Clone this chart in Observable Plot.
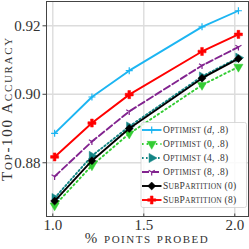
<!DOCTYPE html>
<html><head><meta charset="utf-8">
<script src="https://cdn.jsdelivr.net/npm/d3@7"></script>
<script src="https://cdn.jsdelivr.net/npm/@observablehq/plot@0.6"></script>
<style>
html,body{margin:0;padding:0;background:#fff;}
#chart svg{display:block;}
</style>
</head><body><div id="chart"></div>
<script>
const xValues = [1.01, 1.215, 1.42, 1.82, 2.02];
const optD = [0.8886, 0.8992, 0.9069, 0.9197, 0.9244];
const opt0 = [0.8675, 0.8792, 0.8885, 0.9027, 0.9080];
const opt4 = [0.8697, 0.8820, 0.8906, 0.9052, 0.9107];
const opt8 = [0.8760, 0.8862, 0.8950, 0.9084, 0.9138];
const sub0 = [0.8688, 0.8806, 0.8900, 0.9047, 0.9104];
const sub8 = [0.8817, 0.8916, 0.8999, 0.9125, 0.9175];
const xTicks = [1.0, 1.5, 2.0];
const yTicks = [0.88, 0.90, 0.92];
const xLabel = "% points probed";
const yLabel = "Top-100 Accuracy";

const triDown = {draw(ctx, size){const r=Math.sqrt(size/Math.PI);ctx.moveTo(0,0);ctx.lineTo(0,r);ctx.moveTo(0,0);ctx.lineTo(-r*0.87,-r*0.5);ctx.moveTo(0,0);ctx.lineTo(r*0.87,-r*0.5);}};
const plusThin = {draw(ctx, size){const r=Math.sqrt(size/Math.PI);ctx.moveTo(0,-r);ctx.lineTo(0,r);ctx.moveTo(-r,0);ctx.lineTo(r,0);}};

const series = [
  {label:"Optimist (d, .8)", y:optD, color:"#1cb5f2", dash:null, symbol:plusThin, fill:false, rotate:0, r:3.5},
  {label:"Optimist (0, .8)", y:opt0, color:"#33cc33", dash:"1.6,3", symbol:"triangle", fill:true, rotate:180, r:3.4},
  {label:"Optimist (4, .8)", y:opt4, color:"#138585", dash:"1.6,2.4", symbol:"triangle", fill:true, rotate:90, r:3.4},
  {label:"Optimist (8, .8)", y:opt8, color:"#82238f", dash:"7,3", symbol:triDown, fill:false, rotate:0, r:3.5},
  {label:"SubPartition (0)", y:sub0, color:"#000000", dash:null, symbol:"diamond2", fill:true, rotate:0, r:3.6},
  {label:"SubPartition (8)", y:sub8, color:"#ff0000", dash:null, symbol:"cross", fill:true, rotate:0, r:3.4}
];

const marks = [Plot.frame({stroke:"#444", strokeWidth:1})];
for (const s of series) {
  const data = xValues.map((x,i)=>({x, y:s.y[i]}));
  marks.push(Plot.line(data, {x:"x", y:"y", stroke:s.color, strokeWidth:1.9, strokeDasharray:s.dash}));
  marks.push(Plot.dot(data, {x:"x", y:"y", symbol:()=>s.symbol, r:s.r, rotate:s.rotate,
    fill: s.fill ? s.color : "none", stroke:s.color, strokeWidth: s.fill?0.5:1.2}));
}

const plot = Plot.plot({
  width:249, height:249,
  marginLeft:46, marginRight:1, marginTop:1, marginBottom:33,
  style:{fontFamily:"'Liberation Serif', serif", background:"#fff"},
  symbol:{type:"identity"},
  x:{domain:[0.9654,2.0754], label:null},
  y:{domain:[0.8643,0.9271], label:null},
  marks: [
    Plot.gridX(xTicks, {stroke:"#dcdcdc", strokeOpacity:1, strokeWidth:1.4}),
    Plot.gridY(yTicks, {stroke:"#dcdcdc", strokeOpacity:1, strokeWidth:1.4}),
    Plot.axisX(xTicks, {tickFormat:d3.format(".1f"), tickSize:3, tickPadding:2, dy:-2.5, fontSize:15, fill:"#333", stroke:"#444", label:null}),
    Plot.axisY(yTicks, {tickFormat:d3.format(".2f"), tickSize:3.5, tickPadding:2.5, fontSize:15, fill:"#333", stroke:"#444", label:null}),
    ...marks
  ]
});
document.getElementById("chart").appendChild(plot);

const svg = d3.select(plot);
// manual small caps: uppercase letters at big size, lowercase letters uppercased at small size
function smallCaps(textSel, str, big, small, italicChars) {
  let i = 0;
  while (i < str.length) {
    const ch = str[i];
    const isLower = /[a-z]/.test(ch) && !(italicChars && italicChars.includes(i));
    let j = i + 1;
    if (italicChars && italicChars.includes(i)) {
      textSel.append("tspan").text(ch).style("font-size", big + "px").style("font-style", "italic");
      i = j; continue;
    }
    while (j < str.length && (/[a-z]/.test(str[j]) === isLower) && !(italicChars && italicChars.includes(j))) j++;
    const part = str.slice(i, j);
    textSel.append("tspan").text(isLower ? part.toUpperCase() : part).style("font-size", (isLower ? small : big) + "px");
    i = j;
  }
}

const xl = svg.append("text").attr("x",147).attr("y",242.5).attr("text-anchor","middle")
  .style("font-family","'Liberation Serif', serif").style("letter-spacing","1.5px").attr("fill","#333");
smallCaps(xl, xLabel, 15, 11);
const yl = svg.append("text").attr("transform","translate(12,108.5) rotate(-90)").attr("text-anchor","middle")
  .style("font-family","'Liberation Serif', serif").style("letter-spacing","1.7px").attr("fill","#333");
smallCaps(yl, yLabel, 15, 11);

// legend
const lg = svg.append("g");
lg.append("rect").attr("x",141).attr("y",122.5).attr("width",105.5).attr("height",85).attr("rx",2)
  .attr("fill","#fff").attr("fill-opacity",0.85).attr("stroke","#d0d0d0").attr("stroke-width",0.8);
series.forEach((s,i)=>{
  const yy = 130 + i*14;
  lg.append("line").attr("x1",142).attr("x2",161.5).attr("y1",yy).attr("y2",yy)
    .attr("stroke",s.color).attr("stroke-width",1.9).attr("stroke-dasharray",s.dash);
  const sym = typeof s.symbol === "string" ? ({triangle:d3.symbolTriangle, diamond2:d3.symbolDiamond2, cross:d3.symbolCross})[s.symbol] : s.symbol;
  lg.append("path").attr("d", d3.symbol(sym, Math.PI*s.r*s.r)())
    .attr("transform",`translate(151.7,${yy}) rotate(${s.rotate})`)
    .attr("fill", s.fill ? s.color : "none").attr("stroke",s.color).attr("stroke-width", s.fill?0.5:1.2);
  const t = lg.append("text").attr("x",163).attr("y",yy + 3.3).attr("text-anchor","start")
    .style("font-family","'Liberation Serif', serif").style("letter-spacing","0.25px").attr("fill","#333");
  const idx = s.label.indexOf("(d");
  smallCaps(t, s.label, 9.5, 7.5, idx >= 0 ? [idx + 1] : null);
});
</script>
</body></html>
